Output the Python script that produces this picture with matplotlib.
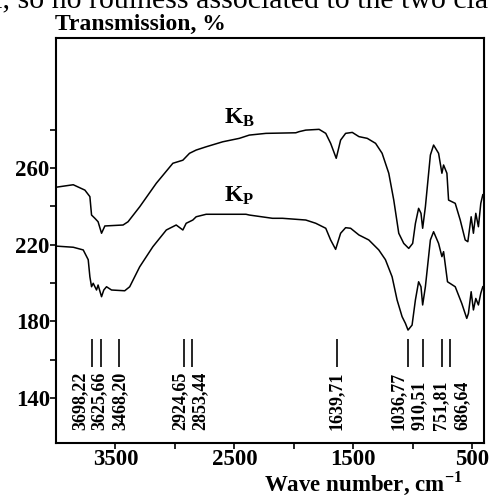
import numpy as np
import matplotlib
matplotlib.use("Agg")
import matplotlib.pyplot as plt
from matplotlib.ticker import FixedLocator

plt.rcParams['font.family'] = ['Liberation Serif', 'DejaVu Serif']
plt.rcParams['font.weight'] = 'bold'
plt.rcParams['mathtext.fontset'] = 'custom'
plt.rcParams['mathtext.rm'] = 'Liberation Serif:bold'
plt.rcParams['mathtext.bf'] = 'Liberation Serif:bold'

# IR spectra (wave number, transmission)
wn_b = [4000, 3855, 3757, 3715, 3701, 3673, 3646, 3617, 3589, 3436, 3394, 3296,
        3156, 3017, 2933, 2877, 2821, 2737, 2598, 2458, 2374, 2234, 1983, 1955,
        1899, 1787, 1731, 1690, 1643, 1606, 1564, 1508, 1452, 1382, 1312, 1257,
        1201, 1159, 1117, 1075, 1033, 1000, 977, 950, 930, 916, 893, 851, 824,
        782, 754, 740, 712, 698, 642, 600, 558, 536, 508, 489, 469, 447, 427, 410]
t_b = [249.9, 251.2, 248.4, 245.0, 235.4, 233.7, 231.9, 225.9, 229.7, 230.2, 231.9, 239.7,
       252.0, 262.4, 264.0, 267.6, 269.3, 271.0, 273.6, 275.4, 277.1, 278.0, 278.3, 278.9,
       279.7, 280.1, 278.0, 272.8, 265.0, 274.5, 278.0, 278.5, 276.3, 275.4, 272.8, 267.6,
       257.2, 243.2, 225.9, 220.6, 218.0, 220.6, 231.0, 238.9, 236.3, 228.5, 239.7, 266.7, 271.9,
       267.6, 257.2, 261.5, 257.2, 243.2, 241.5, 232.8, 222.4, 221.5, 234.5, 225.9, 236.3, 229.3, 241.5, 246.0]

wn_p = [4000, 3855, 3771, 3729, 3715, 3701, 3687, 3659, 3646, 3617, 3598, 3575,
        3533, 3422, 3380, 3296, 3185, 3072, 2989, 2933, 2905, 2849, 2821, 2737,
        2402, 2374, 2179, 2095, 1899, 1815, 1731, 1690, 1648, 1606, 1564, 1522,
        1452, 1369, 1285, 1229, 1173, 1131, 1089, 1061, 1039, 1005, 977, 950, 930,
        916, 893, 851, 824, 782, 754, 740, 707, 642, 587, 545, 531, 508, 489, 469,
        447, 427, 410]
t_p = [219.2, 218.6, 217.2, 212.1, 203.2, 198.0, 199.8, 196.3, 198.9, 192.8, 196.3, 198.0,
       196.3, 195.9, 198.0, 208.4, 218.9, 227.6, 230.2, 227.6, 231.1, 232.8, 234.5, 235.8,
       235.8, 235.4, 233.7, 233.7, 232.8, 231.1, 228.5, 222.4, 217.5, 225.9, 228.8, 228.5,
       225.0, 222.4, 217.2, 212.1, 203.2, 191.1, 182.4, 178.9, 175.4, 178.0, 191.1, 200.6, 198.0,
       188.5, 198.0, 222.4, 226.7, 220.6, 213.7, 216.3, 200.6, 198.0, 189.3, 181.5, 184.1, 195.4, 185.9, 191.9,
       188.5, 194.6, 198.0]

bands = [3698.22, 3625.66, 3468.20, 2924.65, 2853.44, 1639.71, 1036.77, 910.51, 751.81, 686.64]
band_labels = ["3698,22", "3625,66", "3468,20", "2924,65", "2853,44", "1639,71",
               "1036,77", "910,51", "751,81", "686,64"]
label_pos = [3799, 3637, 3458, 2960, 2793, 1645, 1125, 944, 767, 581]

x_major = [3500, 2500, 1500, 500]
x_minor = [3000, 2000, 1000]
y_major = [140, 180, 220, 260]
y_minor = [160, 200, 240, 280]

fig = plt.figure(figsize=(4.93, 4.95), dpi=100)
ax = fig.add_axes([56/493, 1 - 443/495, 428/493, 405.5/495])

ax.plot(wn_b, t_b, color='black', lw=1.1)
ax.plot(wn_p, t_p, color='black', lw=1.1)

ax.vlines(bands, 156, 171, color='black', lw=1.2)
for pos, lab in zip(label_pos, band_labels):
    ax.text(pos, 123.3, lab, rotation=90, ha='center', va='bottom',
            fontsize=13, fontweight='bold')

ax.text(2584, 282.9, r'$\mathbf{K_B}$', fontsize=17, ha='left', va='baseline')
ax.text(2584, 242.3, r'$\mathbf{K_P}$', fontsize=17, ha='left', va='baseline')

ax.set_xlim(4000, 400)
ax.set_ylim(116.5, 328)
ax.xaxis.set_major_locator(FixedLocator(x_major))
ax.xaxis.set_minor_locator(FixedLocator(x_minor))
ax.yaxis.set_major_locator(FixedLocator(y_major))
ax.yaxis.set_minor_locator(FixedLocator(y_minor))
ax.tick_params(which='both', direction='out', length=4, width=1.2, top=False, right=False)
ax.tick_params(axis='both', which='major', labelsize=16.5, pad=0.5)
for s in ax.spines.values():
    s.set_linewidth(1.5)

fig.text(55/493, 1 - 30/495, "Transmission, %", fontsize=17, fontweight='bold',
         ha='left', va='baseline')
fig.text(462/493, 1 - 490/495, r"Wave number, cm$^{\mathbf{-1}}$", fontsize=16.5,
         fontweight='bold', ha='right', va='baseline')
# line of the page text above the chart, cut off as in the scan
fig.text(488/493, 1 - 7/495, "al, so no roulness associated to the two cla",
         fontsize=21.5, fontweight='normal', ha='right', va='baseline')

plt.savefig("out.png", dpi=100)
